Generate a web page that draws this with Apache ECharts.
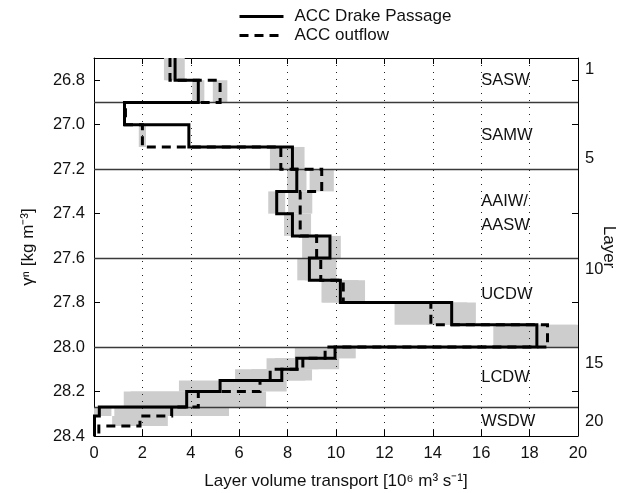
<!DOCTYPE html>
<html>
<head>
<meta charset="utf-8">
<title>ACC layer volume transport</title>
<script src="https://cdn.jsdelivr.net/npm/echarts@6/dist/echarts.min.js"></script>
<style>
  html, body { margin: 0; padding: 0; background: #fff; }
  #chart { width: 627px; height: 493px; }
</style>
</head>
<body>
<div id="chart"></div>
<script>
// Neutral density layer edges (kg m^-3), top to bottom
const layerEdges = [26.7, 26.8, 26.9, 27.0, 27.1, 27.2, 27.3, 27.4, 27.5, 27.6, 27.7,
  27.8, 27.9, 28.0, 28.05, 28.1, 28.15, 28.2, 28.27, 28.31, 28.355, 28.4];

// Layer volume transport (Sv) and uncertainty half-widths
const drakeTransport = [3.35, 4.31, 1.26, 3.92, 8.2, 8.38, 7.55, 8.2, 9.75, 8.9, 10.18,
  14.78, 18.3, 9.96, 8.38, 7.76, 5.21, 3.83, 0.22, 0.02, 0.02];
const drakeError = [0.4, 0.25, 0, 0, 0.5, 0.4, 0.35, 0.35, 0.45, 0.5, 0.75,
  1.0, 1.8, 0.85, 0.9, 1.25, 1.7, 2.6, 0.5, 0, 0];

const outflowTransport = [3.14, 5.21, 1.3, 2.0, 7.72, 9.41, 8.52, 8.52, 9.2, 9.37, 10.3,
  13.92, 18.74, 9.55, 8.63, 7.28, 6.86, 4.31, 3.21, 1.9, 0.2];
const outflowError = [0.25, 0.3, 0, 0.15, 0.45, 0.5, 0.5, 0.45, 0.6, 0.65, 0.9,
  1.5, 1.2, 1.25, 1.5, 1.45, 1.1, 2.8, 2.37, 1.15, 0];

// Axis ticks
const transportTicks = [2, 4, 6, 8, 10, 12, 14, 16, 18];
const gammaTicks = [26.8, 27.0, 27.2, 27.4, 27.6, 27.8, 28.0, 28.2, 28.4];
const labelledLayers = [1, 5, 10, 15, 20];

// Water mass boundaries and names
const massBoundaries = [26.9, 27.2, 27.6, 28.0, 28.27];
const massNames = ['SASW', 'SAMW', 'AAIW/\nAASW', 'UCDW', 'LCDW', 'WSDW'];
const massLabelDepth = [26.8, 27.05, 27.4, 27.765, 28.135, 28.335];
const massLabelTransport = 16;

const FONT = '"Liberation Sans", Arial, Helvetica, sans-serif';
const INK = '#111';

const layerCenters = layerEdges.slice(0, -1).map((e, i) => (e + layerEdges[i + 1]) / 2);

// Vertical profile as a staircase: one vertical segment per layer
function staircase(values) {
  const pts = [];
  values.forEach((v, i) => {
    pts.push([v, layerEdges[i]]);
    pts.push([v, layerEdges[i + 1]]);
  });
  return pts;
}

// Uncertainty boxes [low, high, top, bottom]
function boxes(values, errs) {
  const out = [];
  values.forEach((v, i) => {
    if (errs[i] > 0) out.push([v - errs[i], v + errs[i], layerEdges[i], layerEdges[i + 1]]);
  });
  return out;
}
const boxData = boxes(drakeTransport, drakeError).concat(boxes(outflowTransport, outflowError));

const chart = echarts.init(document.getElementById('chart'), null, { renderer: 'canvas' });

const markLineData = transportTicks.map(x => ({
  xAxis: x,
  lineStyle: { color: '#222', width: 1, type: [1, 6] }
})).concat(massBoundaries.map(y => ({
  yAxis: y,
  lineStyle: { color: '#3a3a3a', width: 1.3, type: 'solid' }
})));

const frameAxis = {
  axisLine: { show: true, onZero: false, lineStyle: { color: '#000', width: 1 } },
  splitLine: { show: false },
  nameMoveOverlap: false
};

chart.setOption({
  animation: false,
  textStyle: { fontFamily: FONT },
  grid: { left: 94, top: 58, width: 484, height: 378, containLabel: false, outerBoundsMode: 'none' },
  legend: {
    orient: 'vertical',
    left: 233,
    top: 3,
    itemWidth: 44,
    itemHeight: 12,
    itemGap: 2,
    data: ['ACC Drake Passage', 'ACC outflow'],
    lineStyle: { width: 3 },
    itemStyle: { color: 'rgba(0,0,0,0)', borderWidth: 0, opacity: 0 },
    textStyle: { fontSize: 17, color: INK, fontFamily: FONT, padding: [0, 0, 0, 6] }
  },
  xAxis: [
    Object.assign({}, frameAxis, {
      type: 'value', min: 0, max: 20, interval: 2, position: 'bottom',
      axisTick: { show: true, inside: true, length: 6, lineStyle: { color: '#000' } },
      axisLabel: { margin: 9, fontSize: 16.5, color: INK, fontFamily: FONT },
      name: 'Layer volume transport [10\u2076 m\u00B3 s\u207B\u00B9]',
      nameLocation: 'middle', nameGap: 37,
      nameTextStyle: { fontSize: 17, color: INK, fontFamily: FONT }
    }),
    Object.assign({}, frameAxis, {
      type: 'value', min: 0, max: 20, interval: 2, position: 'top',
      axisTick: { show: true, inside: true, length: 6, lineStyle: { color: '#000' } },
      axisLabel: { show: false }
    })
  ],
  yAxis: [
    Object.assign({}, frameAxis, {
      type: 'value', inverse: true, min: 26.7, max: 28.4, position: 'left',
      axisTick: { show: true, inside: true, length: 6, customValues: gammaTicks, lineStyle: { color: '#000' } },
      axisLabel: { customValues: gammaTicks, formatter: v => v.toFixed(1), margin: 9, fontSize: 16.5, color: INK, fontFamily: FONT },
      name: '\u03B3\u207F [kg m\u207B\u00B3]',
      nameLocation: 'middle', nameRotate: 90, nameGap: 57,
      nameTextStyle: { fontSize: 17, color: INK, fontFamily: FONT }
    }),
    Object.assign({}, frameAxis, {
      type: 'value', inverse: true, min: 26.7, max: 28.4, position: 'right',
      axisTick: { show: true, inside: true, length: 6, customValues: gammaTicks, lineStyle: { color: '#000' } },
      axisLabel: {
        customValues: labelledLayers.map(n => layerCenters[n - 1]),
        formatter: v => {
          const i = layerCenters.findIndex(c => Math.abs(c - v) < 1e-6);
          return i >= 0 ? String(i + 1) : '';
        },
        margin: 7, fontSize: 16.5, color: INK, fontFamily: FONT
      },
      name: 'Layer',
      nameLocation: 'middle', nameRotate: -90, nameGap: 22,
      nameTextStyle: { fontSize: 17, color: INK, fontFamily: FONT }
    })
  ],
  series: [
    {
      type: 'custom',
      name: 'uncertainty',
      coordinateSystem: 'cartesian2d',
      xAxisIndex: 0, yAxisIndex: 0,
      clip: true,
      silent: true,
      z: 1,
      encode: { x: [0, 1], y: [2, 3] },
      data: boxData,
      renderItem: function (params, api) {
        const p1 = api.coord([api.value(0), api.value(2)]);
        const p2 = api.coord([api.value(1), api.value(3)]);
        const rect = echarts.graphic.clipRectByRect({
          x: Math.min(p1[0], p2[0]), y: Math.min(p1[1], p2[1]),
          width: Math.abs(p2[0] - p1[0]), height: Math.abs(p2[1] - p1[1])
        }, {
          x: params.coordSys.x, y: params.coordSys.y,
          width: params.coordSys.width, height: params.coordSys.height
        });
        if (!rect) return null;
        return { type: 'rect', shape: rect, style: { fill: '#cdcdcd' } };
      },
      markLine: {
        silent: true,
        symbol: 'none',
        z: 5,
        label: { show: false },
        animation: false,
        data: markLineData
      }
    },
    {
      type: 'line',
      name: 'ACC Drake Passage',
      xAxisIndex: 0, yAxisIndex: 0,
      data: staircase(drakeTransport),
      symbol: 'none',
      z: 10,
      itemStyle: { color: '#000' },
      lineStyle: { color: '#000', width: 3, type: 'solid', join: 'miter', cap: 'butt' }
    },
    {
      type: 'line',
      name: 'ACC outflow',
      xAxisIndex: 0, yAxisIndex: 0,
      data: staircase(outflowTransport),
      symbol: 'none',
      z: 11,
      itemStyle: { color: '#000' },
      lineStyle: { color: '#000', width: 3, type: [9, 6], join: 'miter', cap: 'butt' }
    },
    {
      type: 'scatter',
      name: 'water masses',
      xAxisIndex: 0, yAxisIndex: 0,
      silent: true,
      symbolSize: 0,
      z: 12,
      itemStyle: { opacity: 1 },
      data: massNames.map((n, i) => ({ name: n, value: [massLabelTransport, massLabelDepth[i]] })),
      label: {
        show: true, position: 'right', distance: 0,
        formatter: '{b}', fontSize: 16.5, lineHeight: 24, color: INK, fontFamily: FONT, align: 'left'
      }
    }
  ]
});
</script>
</body>
</html>
